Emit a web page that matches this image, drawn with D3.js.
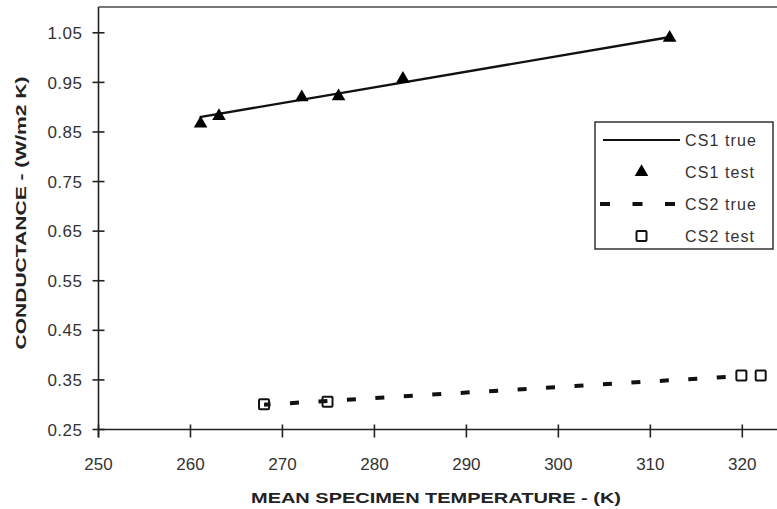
<!DOCTYPE html>
<html>
<head>
<meta charset="utf-8">
<script src="https://cdn.jsdelivr.net/npm/d3@7"></script>
<style>
  body { margin: 0; background: #fff; }
  svg { display: block; }
  text { font-family: "Liberation Sans", Arial, sans-serif; }
</style>
</head>
<body>
<svg id="chart" width="777" height="509"></svg>
<script>
// ---- data ----
const xTicks = [250, 260, 270, 280, 290, 300, 310, 320];
const yTicks = [0.25, 0.35, 0.45, 0.55, 0.65, 0.75, 0.85, 0.95, 1.05];

const cs1TrueX = [261, 312];
const cs1TrueY = [0.880, 1.041];

const cs1TestX = [261.1, 263.1, 272.1, 276.1, 283.1, 312.1];
const cs1TestY = [0.867, 0.882, 0.920, 0.922, 0.957, 1.040];

const cs2TrueX = [268, 320];
const cs2TrueY = [0.300, 0.358];

const cs2TestX = [268.0, 274.9, 319.9, 322.0];
const cs2TestY = [0.301, 0.306, 0.359, 0.359];

const legendLabels = ["CS1 true", "CS1 test", "CS2 true", "CS2 test"];

// ---- drawing ----
const svg = d3.select("#chart");
const W = 777;

const x = d3.scaleLinear().domain([250, 320]).range([98.5, 742.3]);
const y = d3.scaleLinear().domain([0.25, 1.1]).range([429.5, 8]);

const axisColor = "#222";
const labelColor = "#333";

// top frame line
svg.append("line")
  .attr("x1", x(250)).attr("x2", W)
  .attr("y1", 7).attr("y2", 7)
  .attr("stroke", "#777").attr("stroke-width", 2);

// X axis
const xAxis = svg.append("g").attr("transform", `translate(0,${y(0.25)})`);
xAxis.append("line")
  .attr("x1", x(250)).attr("x2", W)
  .attr("y1", 0).attr("y2", 0)
  .attr("stroke", axisColor).attr("stroke-width", 1.6);
xAxis.selectAll("line.tick").data(xTicks).enter().append("line")
  .attr("class", "tick")
  .attr("x1", d => x(d)).attr("x2", d => x(d))
  .attr("y1", -5).attr("y2", 8)
  .attr("stroke", axisColor).attr("stroke-width", 1.6);
xAxis.selectAll("text").data(xTicks).enter().append("text")
  .attr("x", d => x(d)).attr("y", 40)
  .attr("text-anchor", "middle")
  .attr("font-size", 17)
  .attr("fill", labelColor)
  .text(d => d);

// Y axis
const yAxis = svg.append("g").attr("transform", `translate(${x(250)},0)`);
yAxis.append("line")
  .attr("x1", 0).attr("x2", 0)
  .attr("y1", 7).attr("y2", y(0.25) + 8)
  .attr("stroke", axisColor).attr("stroke-width", 1.6);
yAxis.selectAll("line.tick").data(yTicks).enter().append("line")
  .attr("class", "tick")
  .attr("x1", -6).attr("x2", 6)
  .attr("y1", d => y(d)).attr("y2", d => y(d))
  .attr("stroke", axisColor).attr("stroke-width", 1.6);
yAxis.selectAll("text").data(yTicks).enter().append("text")
  .attr("x", -16).attr("y", d => y(d))
  .attr("dy", "0.36em")
  .attr("text-anchor", "end")
  .attr("font-size", 17)
  .attr("letter-spacing", 0.5)
  .attr("fill", labelColor)
  .text(d => d.toFixed(2));

// Axis titles
svg.append("text")
  .attr("x", 436).attr("y", 503)
  .attr("text-anchor", "middle")
  .attr("font-size", 15)
  .attr("font-weight", "bold")
  .attr("fill", "#222")
  .attr("textLength", 370)
  .attr("lengthAdjust", "spacingAndGlyphs")
  .text("MEAN SPECIMEN TEMPERATURE -  (K)");

svg.append("text")
  .attr("transform", "translate(26,213) rotate(-90)")
  .attr("text-anchor", "middle")
  .attr("font-size", 15)
  .attr("font-weight", "bold")
  .attr("fill", "#222")
  .attr("textLength", 273)
  .attr("lengthAdjust", "spacingAndGlyphs")
  .text("CONDUCTANCE - (W/m2 K)");

// CS1 true line
const line = d3.line().x(d => x(d[0])).y(d => y(d[1]));
svg.append("path")
  .datum(d3.zip(cs1TrueX, cs1TrueY))
  .attr("d", line)
  .attr("fill", "none")
  .attr("stroke", "#111")
  .attr("stroke-width", 2.4);

// CS2 true dashed line
svg.append("path")
  .datum(d3.zip(cs2TrueX, cs2TrueY))
  .attr("d", line)
  .attr("fill", "none")
  .attr("stroke", "#111")
  .attr("stroke-width", 4)
  .attr("stroke-dasharray", "9,19.5")
  .attr("stroke-dashoffset", 2.5);

// CS1 test triangles
const tri = d3.symbol().type(d3.symbolTriangle).size(80);
svg.selectAll("path.tri")
  .data(d3.zip(cs1TestX, cs1TestY))
  .enter().append("path")
  .attr("class", "tri")
  .attr("transform", d => `translate(${x(d[0])},${y(d[1])})`)
  .attr("d", tri)
  .attr("fill", "#000");

// CS2 test squares
svg.selectAll("rect.sq")
  .data(d3.zip(cs2TestX, cs2TestY))
  .enter().append("rect")
  .attr("class", "sq")
  .attr("x", d => x(d[0]) - 5)
  .attr("y", d => y(d[1]) - 5)
  .attr("width", 10).attr("height", 10)
  .attr("rx", 1)
  .attr("fill", "none")
  .attr("stroke", "#111")
  .attr("stroke-width", 2);

// Legend
const lg = svg.append("g");
lg.append("rect")
  .attr("x", 595).attr("y", 122)
  .attr("width", 178).attr("height", 127)
  .attr("fill", "#fff")
  .attr("stroke", "#333").attr("stroke-width", 1.5);
const rowY = [140, 172, 204, 236];
lg.selectAll("text").data(legendLabels).enter().append("text")
  .attr("x", 685).attr("y", (d, i) => rowY[i])
  .attr("dy", "0.36em")
  .attr("font-size", 16)
  .attr("letter-spacing", 1.1)
  .attr("fill", labelColor)
  .text(d => d);
lg.append("line")
  .attr("x1", 603).attr("x2", 680)
  .attr("y1", rowY[0]).attr("y2", rowY[0])
  .attr("stroke", "#111").attr("stroke-width", 2);
lg.append("path")
  .attr("transform", `translate(641.5,${rowY[1]})`)
  .attr("d", tri)
  .attr("fill", "#000");
lg.append("line")
  .attr("x1", 600).attr("x2", 675)
  .attr("y1", rowY[2]).attr("y2", rowY[2])
  .attr("stroke", "#111").attr("stroke-width", 4)
  .attr("stroke-dasharray", "10,22.5");
lg.append("rect")
  .attr("x", 636.5).attr("y", rowY[3] - 5)
  .attr("width", 10).attr("height", 10)
  .attr("rx", 1)
  .attr("fill", "none")
  .attr("stroke", "#111").attr("stroke-width", 2);
</script>
</body>
</html>
